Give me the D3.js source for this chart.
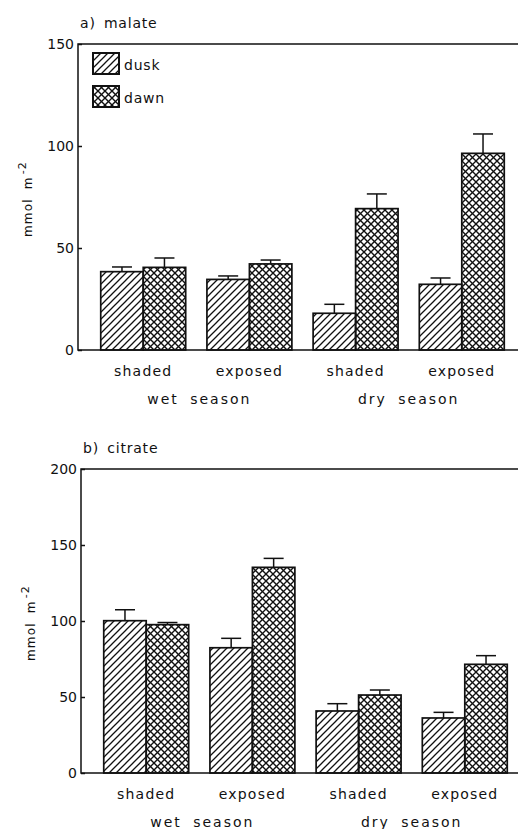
<!DOCTYPE html>
<html>
<head>
<meta charset="utf-8">
<script src="https://cdn.jsdelivr.net/npm/d3@7"></script>
<style>
  body { margin: 0; background: #fff; }
  text { font-family: "DejaVu Sans", sans-serif; fill: #111; }
</style>
</head>
<body>
<div id="chart"></div>
<script>
(() => {

    // data
    var groups = ["wet-shaded", "wet-exposed", "dry-shaded", "dry-exposed"];
    var groupLabels = ["shaded", "exposed", "shaded", "exposed"];
    var seasons = ["wet season", "dry season"];
    var series = ["dusk", "dawn"];

    var malateDusk = [38.4, 34.6, 18.0, 32.2];
    var malateDawn = [40.5, 42.2, 69.3, 96.4];
    var malateDuskErr = [2.3, 1.7, 4.4, 3.1];
    var malateDawnErr = [4.6, 1.9, 7.2, 9.5];

    var citrateDusk = [100.2, 82.4, 40.8, 36.2];
    var citrateDawn = [97.6, 135.3, 51.3, 71.5];
    var citrateDuskErr = [7.2, 6.2, 4.8, 3.7];
    var citrateDawnErr = [1.4, 5.9, 3.3, 5.7];

    var W = 518, H = 829;

    var svg = d3.select("#chart")
        .append("svg")
        .attr("width", W)
        .attr("height", H);

    // hatch patterns
    var defs = svg.append("defs");
    var s = 7;
    defs.append("pattern")
        .attr("id", "hatch")
        .attr("patternUnits", "userSpaceOnUse")
        .attr("width", s).attr("height", s)
        .append("path")
        .attr("d", "M-1,1 l2,-2 M0," + s + " l" + s + ",-" + s + " M" + (s - 1) + "," + (s + 1) + " l2,-2")
        .attr("stroke", "#111").attr("stroke-width", 1.3);
    var cross = defs.append("pattern")
        .attr("id", "cross")
        .attr("patternUnits", "userSpaceOnUse")
        .attr("width", s).attr("height", s);
    cross.append("path")
        .attr("d", "M-1,1 l2,-2 M0," + s + " l" + s + ",-" + s + " M" + (s - 1) + "," + (s + 1) + " l2,-2")
        .attr("stroke", "#111").attr("stroke-width", 1.4);
    cross.append("path")
        .attr("d", "M-1," + (s - 1) + " l2,2 M0,0 l" + s + "," + s + " M" + (s - 1) + ",-1 l2,2")
        .attr("stroke", "#111").attr("stroke-width", 1.4);

    var fills = { dusk: "url(#hatch)", dawn: "url(#cross)" };

    function drawPanel(opt) {
        var g = svg.append("g");

        var x = d3.scaleBand()
            .domain(groups)
            .range([opt.left + 1.5, opt.left + 447.5])
            .paddingInner(0.2)
            .paddingOuter(0.2);
        var xs = d3.scaleBand()
            .domain(series)
            .range([0, x.bandwidth()]);
        var y = d3.scaleLinear()
            .domain([0, opt.max])
            .range([opt.bottom, opt.top]);

        var rows = groups.map(function (k, i) {
            return [
                { g: k, s: "dusk", v: opt.dusk[i], e: opt.duskErr[i] },
                { g: k, s: "dawn", v: opt.dawn[i], e: opt.dawnErr[i] }
            ];
        }).flat();

        // error bars first, bars drawn over them
        var eb = g.selectAll(".err")
            .data(rows)
            .enter()
            .append("g")
            .attr("class", "err")
            .attr("stroke", "#111")
            .attr("stroke-width", 1.5);
        eb.append("line")
            .attr("x1", function (d) { return x(d.g) + xs(d.s) + xs.bandwidth() / 2; })
            .attr("x2", function (d) { return x(d.g) + xs(d.s) + xs.bandwidth() / 2; })
            .attr("y1", function (d) { return y(d.v); })
            .attr("y2", function (d) { return y(d.v + d.e); });
        eb.append("line")
            .attr("x1", function (d) { return x(d.g) + xs(d.s) + xs.bandwidth() / 2 - 10; })
            .attr("x2", function (d) { return x(d.g) + xs(d.s) + xs.bandwidth() / 2 + 10; })
            .attr("y1", function (d) { return y(d.v + d.e); })
            .attr("y2", function (d) { return y(d.v + d.e); });

        g.selectAll(".bar")
            .data(rows)
            .enter()
            .append("rect")
            .attr("class", "bar")
            .attr("x", function (d) { return x(d.g) + xs(d.s); })
            .attr("y", function (d) { return y(d.v); })
            .attr("width", xs.bandwidth())
            .attr("height", function (d) { return y(0) - y(d.v); })
            .attr("fill", function (d) { return fills[d.s]; })
            .attr("stroke", "#111")
            .attr("stroke-width", 1.7);

        // y axis, ticks pointing inward
        var ya = g.append("g")
            .attr("transform", "translate(" + opt.left + ",0)")
            .call(d3.axisRight(y).tickValues(d3.range(0, opt.max + 1, 50)).tickSize(4).tickFormat(d3.format("d")));
        ya.select(".domain").remove();
        ya.selectAll("line").attr("stroke", "#111").attr("stroke-width", 1.5);
        ya.selectAll("text")
            .attr("x", -4)
            .attr("text-anchor", "end")
            .style("font-size", "14px")
            .style("font-family", "DejaVu Sans");

        // frame: left, top, bottom
        g.append("path")
            .attr("d", "M" + W + "," + opt.top + " H" + opt.left + " V" + opt.bottom + " H" + W)
            .attr("fill", "none")
            .attr("stroke", "#111")
            .attr("stroke-width", 1.5);

        // category labels
        g.selectAll(".cat")
            .data(groups)
            .enter()
            .append("text")
            .attr("x", function (d) { return x(d) + x.bandwidth() / 2; })
            .attr("y", opt.bottom + 26)
            .attr("text-anchor", "middle")
            .style("font-size", "14px")
            .style("letter-spacing", "1.2px")
            .text(function (d, i) { return groupLabels[i]; });

        g.selectAll(".season")
            .data(seasons)
            .enter()
            .append("text")
            .attr("x", function (d, i) {
                return (x(groups[i * 2]) + x(groups[i * 2 + 1]) + x.bandwidth()) / 2 + (i === 0 ? 3 : 0);
            })
            .attr("y", opt.bottom + 54)
            .attr("text-anchor", "middle")
            .style("font-size", "14px")
            .style("letter-spacing", "2px")
            .style("word-spacing", "5px")
            .text(function (d) { return d; });

        // panel title
        g.append("text")
            .attr("x", opt.left + 2)
            .attr("y", opt.top - 16)
            .style("font-size", "14px")
            .style("letter-spacing", "0.8px")
            .style("word-spacing", "3px")
            .text(opt.title);

        // y label
        var yl = g.append("text")
            .attr("transform", "translate(" + (opt.left - 46) + "," + ((opt.top + opt.bottom) / 2 + 2) + ") rotate(-90)")
            .attr("text-anchor", "middle")
            .style("font-size", "12px")
            .style("letter-spacing", "1.2px")
            .style("word-spacing", "4px");
        yl.append("tspan").text("mmol m");
        yl.append("tspan").attr("dy", -6).attr("dx", 2).style("font-size", "11px").text("-2");

        return g;
    }

    drawPanel({
        title: "a) malate", left: 78, top: 44, bottom: 350, max: 150,
        dusk: malateDusk, dawn: malateDawn, duskErr: malateDuskErr, dawnErr: malateDawnErr
    });

    drawPanel({
        title: "b) citrate", left: 81, top: 469, bottom: 773, max: 200,
        dusk: citrateDusk, dawn: citrateDawn, duskErr: citrateDuskErr, dawnErr: citrateDawnErr
    });

    // legend (panel a)
    var leg = svg.append("g");
    leg.selectAll("rect")
        .data(series)
        .enter()
        .append("rect")
        .attr("x", 93)
        .attr("y", function (d, i) { return 53 + i * 33; })
        .attr("width", 26)
        .attr("height", 21)
        .attr("fill", function (d) { return fills[d]; })
        .attr("stroke", "#111")
        .attr("stroke-width", 2);
    leg.selectAll("text")
        .data(series)
        .enter()
        .append("text")
        .attr("x", 124)
        .attr("y", function (d, i) { return 70 + i * 33; })
        .style("font-size", "14px")
        .style("letter-spacing", "0.8px")
        .text(function (d) { return d; });

})();
</script>
</body>
</html>
